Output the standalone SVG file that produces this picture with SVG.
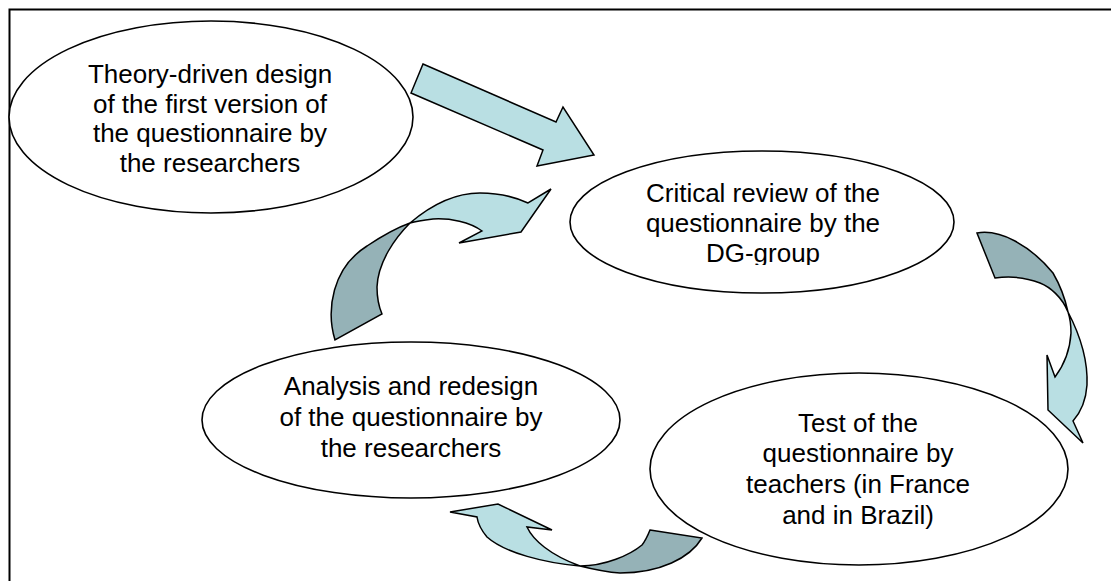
<svg xmlns="http://www.w3.org/2000/svg" width="1111" height="581" viewBox="0 0 1111 581">
<style>
.node ellipse{fill:#fff;stroke:#000;stroke-width:1.6}
.node text{font-family:"Liberation Sans",Arial,sans-serif;font-size:26px;fill:#000;text-anchor:middle}
.lt{fill:#B9DFE3;stroke:#000;stroke-width:1.5;stroke-linejoin:miter}
.dk{fill:#95B2B7;stroke:#000;stroke-width:1.5;stroke-linejoin:miter}
</style>
<defs>
<clipPath id="clipDG"><rect x="560" y="140" width="400" height="125"/></clipPath>
</defs>
<rect width="1111" height="581" fill="#fff"/>
<path d="M9.5,581 L9.5,9.5 L1111,9.5" fill="none" stroke="#000" stroke-width="2"/>
<g id="n1" class="node">
<ellipse cx="211" cy="117" rx="202" ry="96"/>
<text x="210" y="83">Theory-driven design</text>
<text x="210" y="112.5">of the first version of</text>
<text x="210" y="142">the questionnaire by</text>
<text x="210" y="171.5">the researchers</text>
</g>
<g id="n2" class="node">
<ellipse cx="762" cy="222" rx="192" ry="71"/>
<text x="763" y="201.5">Critical review of the</text>
<text x="763" y="231.5">questionnaire by the</text>
<text x="763" y="261.5" clip-path="url(#clipDG)">DG-group</text>
</g>
<g id="n3" class="node">
<ellipse cx="411" cy="420" rx="209" ry="78"/>
<text x="411" y="395">Analysis and redesign</text>
<text x="411" y="426">of the questionnaire by</text>
<text x="411" y="457">the researchers</text>
</g>
<g id="n4" class="node">
<ellipse cx="859" cy="469" rx="209" ry="96"/>
<text x="858" y="431.5">Test of the</text>
<text x="858" y="462">questionnaire by</text>
<text x="858" y="493">teachers (in France</text>
<text x="858" y="523.5">and in Brazil)</text>
</g>
<g id="connectors">
<path class="lt" d="M423,64 L556,122 L563,107 L594,155 L537,166 L543,150 L411,93 Z"/>
<path class="dk" d="M335,340 C326,310 332,268 367,246 C382,236 396,228 410,223 C395,238 378,262 377,287 C377,298 379,307 382,314 Z"/>
<path class="lt" d="M410,223 C430,206 455,193 480,193 C500,193 515,197 528,203 L551,189 L521,232 L459,243 L482,231 C470,222 450,218 433,219 C425,220 417,221 410,223 Z"/>
<path class="dk" d="M977,233 C1000,229 1030,245 1053,273 C1060,285 1065,298 1068,312 C1062,297 1050,287 1040,283 C1025,277 1010,276 995,278 Z"/>
<path class="lt" d="M1068,312 C1080,335 1088,360 1087,385 C1086,400 1081,412 1073,421 L1083,443 L1048,410 L1047,355 L1055,377 C1064,365 1070,350 1071,333 C1071,325 1070,318 1068,312 Z"/>
<path class="dk" d="M650,530 L702,538 C690,558 660,573 620,573 C605,572 592,569 580,566 C605,566 630,555 642,545 C646,540 648,535 650,530 Z"/>
<path class="lt" d="M580,566 C545,563 505,553 487,537 C482,531 478,524 477,517 L450,512 L498,504 L552,530 L527,527 C533,540 550,555 580,566 Z"/>
</g>
</svg>
